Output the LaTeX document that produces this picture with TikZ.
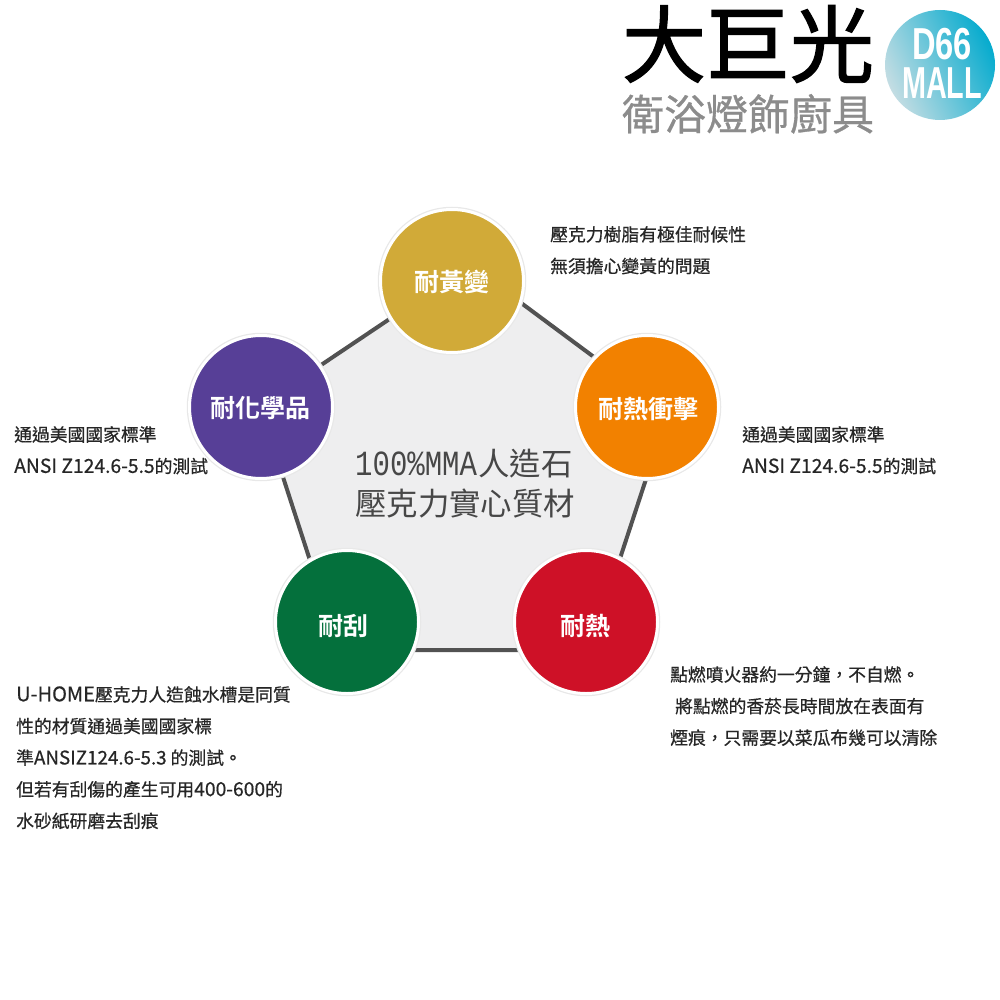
\documentclass[tikz,border=0pt]{standalone}
\usepackage{fontspec}
\usepackage{xcolor}
\usetikzlibrary{positioning, shadings, backgrounds}
\setmainfont{Noto Sans CJK TC}[BoldFont={Noto Sans CJK TC Bold}]
\newfontfamily\notefont{Noto Sans CJK TC}[FakeBold=0.6]
\newfontfamily\brandfont{Noto Sans CJK TC}[FakeBold=1.6]
\newfontfamily\tradefont{Noto Sans CJK TC}[FakeBold=0.7]
\newfontfamily\monofont{Liberation Mono}
\newfontfamily\logofont{Liberation Sans}[BoldFont={Liberation Sans Bold}]
\newcommand{\lat}[2][19.3]{{\fontsize{#1}{31.6}\selectfont #2}}
\definecolor{resistyellow}{HTML}{D1AA38}
\definecolor{resistpurple}{HTML}{573F97}
\definecolor{resistorange}{HTML}{F28100}
\definecolor{resistgreen}{HTML}{04703C}
\definecolor{resistred}{HTML}{CE1127}
\definecolor{panelgrey}{HTML}{EEEEEF}
\definecolor{mallpale}{HTML}{C4DDE3}
\definecolor{malldeep}{HTML}{05ABCE}
\begin{document}
\begin{tikzpicture}[
  x=1pt, y=-1pt,
  disc/.style={circle, draw=white, line width=3pt, minimum size=143pt, inner sep=0pt,
    preaction={draw=black!9, line width=5.5pt}},
  disclabel/.style={font=\fontsize{25}{25}\selectfont\bfseries, text=white, inner sep=0pt},
  note/.style={font=\fontsize{17.8}{31.6}\selectfont\notefont, text=black!85, align=left,
    inner sep=0pt, anchor=north west},
  centretext/.style={inner sep=0pt, text=black!72, anchor=west, font=\fontsize{31.4}{31.4}\selectfont},
  malltext/.style={inner sep=0pt, text=white, font=\logofont\bfseries\fontsize{32}{32}\selectfont},
  rim/.style={draw=black!68, line width=4pt, line join=round},
]
\useasboundingbox (0,0) rectangle (1000,1000);

% --- Logo
\node[inner sep=0pt, font=\fontsize{84}{84}\selectfont\brandfont] (brand) at (748,44) {大巨光};
\node[inner sep=0pt, text=black!45, font=\fontsize{42}{42}\selectfont\tradefont, below=11pt of brand] (trade) {衛浴燈飾廚具};
\node[circle, minimum size=110pt, inner sep=0pt, shading=axis, left color=mallpale,
  right color=malldeep, shading angle=115] (mall) at (940,65) {};
\node[malltext] (malltop) at (942,44) {\scalebox{1.02}[1.4]{D66}};
\node[malltext] (mallbottom) at (942,83) {\scalebox{0.9}[1.4]{MALL}};

% --- Node placement (pentagon corners, then the discs on top)
\coordinate (ptop) at (470,265);
\coordinate (pright) at (668,412);
\coordinate (pbr) at (590,650);
\coordinate (pbl) at (339,650);
\coordinate (pleft) at (260,406);

\draw[rim, fill=panelgrey] (ptop) -- (pright) -- (pbr) -- (pbl) -- (pleft) -- cycle;

\node[disc, fill=resistyellow] (yellowing) at (452,281) {};
\node[disc, fill=resistorange] (shock)     at (647,407) {};
\node[disc, fill=resistpurple] (chemical)  at (261,407) {};
\node[disc, fill=resistgreen]  (scratch)   at (347,622) {};
\node[disc, fill=resistred]    (heat)      at (586,622) {};

\node[disclabel] (yellowingcap) at (452,282) {耐黃變};
\node[disclabel] (shockcap)     at (648,409) {耐熱衝擊};
\node[disclabel] (chemicalcap)  at (260,408) {耐化學品};
\node[disclabel] (scratchcap)   at (343,626) {耐刮};
\node[disclabel] (heatcap)      at (585,626) {耐熱};

% --- Centre text
\node[centretext] (material) at (355,464)
  {{\monofont\fontsize{29}{29}\selectfont\scalebox{1}[1.22]{100\%MMA}}\hspace{1.5pt}人造石};
\node[centretext] (acrylic) at (355,504) {壓克力實心質材};

% --- Notes
\node[note] (noteyellow) at (550,226) {壓克力樹脂有極佳耐候性\\無須擔心變黃的問題};
\node[note] (noteshock)  at (742,426) {通過美國國家標準\\\lat{ANSI Z124.6-5.5}的測試};
\node[note] (notechem)   at (14,426)  {通過美國國家標準\\\lat{ANSI Z124.6-5.5}的測試};
\node[note] (notescratch) at (16,686) {\lat[20]{U-HOME}壓克力人造蝕水槽是同質\\性的材質通過美國國家標\\準\lat[18.8]{ANSIZ124.6-5.3} 的測試。\\但若有刮傷的產生可用\lat{400-600}的\\水砂紙研磨去刮痕};
\node[note] (noteheat)   at (670,666) {點燃噴火器約一分鐘，不自燃。\\\hspace*{5pt}將點燃的香菸長時間放在表面有\\煙痕，只需要以菜瓜布幾可以清除};

\end{tikzpicture}
\end{document}
